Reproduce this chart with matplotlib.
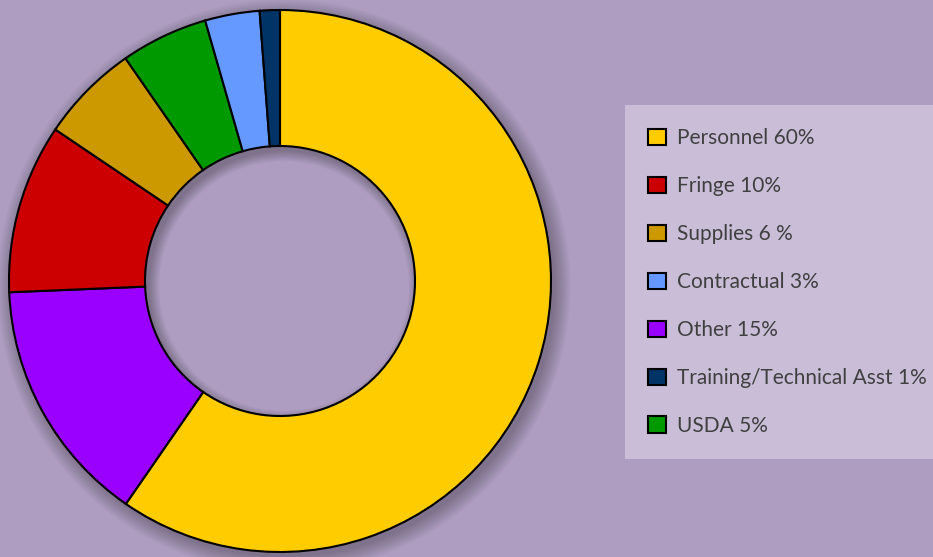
import matplotlib.pyplot as plt
from matplotlib.patches import Wedge

# legend order
labels = ['Personnel 60%', 'Fringe 10%', 'Supplies 6 %', 'Contractual 3%',
          'Other 15%', 'Training/Technical Asst 1%', 'USDA 5%']
# slice sizes (a little off the rounded labels)
values = [59.6, 10.1, 5.9, 3.25, 14.7, 1.2, 5.2]
colors = ['#ffcc00', '#cc0000', '#cc9900', '#6699ff', '#9900ff', '#003366', '#009900']

# order of the slices round the ring, clockwise from 12 o'clock
ring_order = [0, 4, 1, 2, 6, 3, 5]

bg = '#af9dc1'
fig = plt.figure(figsize=(9.33, 5.57), dpi=100, facecolor=bg)
ax = fig.add_axes([0, 0, 1, 1])
ax.set_facecolor(bg)

cx, cy, R = 280, 276, 271
w = 136

# soft drop shadow
for i in range(14):
    ax.add_patch(Wedge((cx + 4, cy - 5), R + i * 1.2, 0, 360, width=w + i * 2.0,
                       facecolor='black', alpha=0.02, edgecolor='none'))

wedges, _ = ax.pie([values[k] for k in ring_order],
                   colors=[colors[k] for k in ring_order],
                   startangle=90, counterclock=False, center=(cx, cy), radius=R,
                   frame=True,
                   wedgeprops=dict(width=w, edgecolor='black', linewidth=1.5))

ax.set_xlim(0, 933)
ax.set_ylim(0, 557)
ax.set_aspect('equal')
ax.axis('off')

handles = [None] * len(labels)
for wd, k in zip(wedges, ring_order):
    handles[k] = wd

leg = ax.legend(handles, labels, loc='upper left',
                bbox_to_anchor=(625 / 933, 1 - 105 / 557), borderaxespad=0,
                prop={'family': 'Lato', 'size': 15}, labelcolor='#404040',
                handlelength=0.83, handleheight=0.83, handletextpad=0.55,
                labelspacing=1.34, borderpad=1.12, frameon=True, fancybox=False)
leg.get_frame().set_facecolor('#c9bdd7')
leg.get_frame().set_edgecolor('none')
leg.get_frame().set_alpha(1)

fig.savefig('out.png', dpi=100, facecolor=bg)
